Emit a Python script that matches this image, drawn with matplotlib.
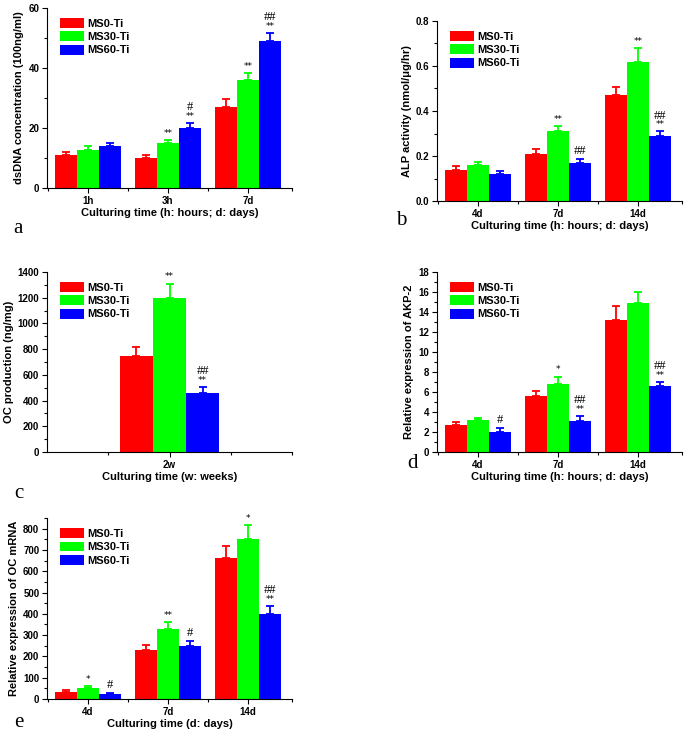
import matplotlib
matplotlib.use("Agg")
import matplotlib.pyplot as plt
import numpy as np
from matplotlib.ticker import MultipleLocator, FixedLocator

W, H = 685, 739
plt.rcParams['font.family'] = ['Liberation Sans', 'DejaVu Sans']
plt.rcParams['font.weight'] = 'bold'

groups = ["MS0-Ti", "MS30-Ti", "MS60-Ti"]
colors = ["#ff0000", "#00ff00", "#0000ff"]

# Panel a: dsDNA
a_cats = ["1h", "3h", "7d"]
a_vals = [[11, 10, 27], [12.6, 15, 36], [14, 20, 49]]
a_err = [[1.0, 1.1, 2.7], [1.5, 1.0, 2.4], [1.1, 1.8, 2.6]]
a_marks = [["", "", ""], ["", "**", "**"], ["", "#\n**", "##\n**"]]

# Panel b: ALP
b_cats = ["4d", "7d", "14d"]
b_vals = [[0.14, 0.21, 0.47], [0.16, 0.31, 0.62], [0.12, 0.17, 0.29]]
b_err = [[0.015, 0.02, 0.037], [0.013, 0.025, 0.06], [0.012, 0.015, 0.02]]
b_marks = [["", "", ""], ["", "**", "**"], ["", "##", "##\n**"]]

# Panel c: OC production
c_cats = ["2w"]
c_vals = [[750], [1200], [460]]
c_err = [[70], [110], [45]]
c_marks = [[""], ["**"], ["##\n**"]]

# Panel d: AKP-2
d_cats = ["4d", "7d", "14d"]
d_vals = [[2.7, 5.6, 13.2], [3.2, 6.8, 14.9], [2.0, 3.1, 6.6]]
d_err = [[0.3, 0.5, 1.4], [0.2, 0.75, 1.1], [0.4, 0.5, 0.4]]
d_marks = [["", "", ""], ["", "*", ""], ["#", "##\n**", "##\n**"]]

# Panel e: OC mRNA
e_cats = ["4d", "7d", "14d"]
e_vals = [[35, 230, 660], [50, 330, 750], [22, 250, 400]]
e_err = [[5, 24, 60], [10, 30, 67], [6, 22, 38]]
e_marks = [["", "", ""], ["*", "**", "*"], ["#", "#", "##\n**"]]

fig = plt.figure(figsize=(W / 100, H / 100), dpi=100)


def make_ax(l, r, t, b):
    return fig.add_axes([l / W, 1 - b / H, (r - l) / W, (b - t) / H])


def draw(ax, cats, vals, errs, marks, ymax, ystep, yminor, ylabel, xlabel,
         width, xlim, fmt=None, minor_x=None):
    n = len(cats)
    x = np.arange(1, n + 1)
    for i in range(3):
        xs = x + (i - 1) * width
        ax.bar(xs, vals[i], width=width, color=colors[i], label=groups[i],
               edgecolor='none', zorder=2)
        ax.errorbar(xs, vals[i], yerr=[np.zeros(n), errs[i]], fmt='none',
                    ecolor=colors[i], elinewidth=1.3, capsize=3.2,
                    capthick=1.3, zorder=3)
        for j in range(n):
            m = marks[i][j]
            if not m:
                continue
            top = vals[i][j] + errs[i][j]
            lines = m.split("\n")
            off = 1.5
            for k, s in enumerate(reversed(lines)):
                if s.startswith("*"):
                    ax.annotate(s, (xs[j], top), xytext=(0, off),
                                textcoords='offset points', ha='center',
                                va='bottom', fontsize=6.5,
                                fontweight='normal', family='DejaVu Sans')
                    off += 5.5
                else:
                    ax.annotate(s, (xs[j], top), xytext=(0, off),
                                textcoords='offset points', ha='center',
                                va='bottom', fontsize=9,
                                fontweight='normal', family='Liberation Serif')
                    off += 9
    ax.set_xlim(*xlim)
    ax.set_ylim(0, ymax)
    ax.set_xticks(x)
    ax.set_xticklabels(cats, fontsize=7, fontweight='bold')
    if minor_x is not None:
        ax.xaxis.set_minor_locator(FixedLocator(minor_x))
    ax.yaxis.set_major_locator(MultipleLocator(ystep))
    ax.yaxis.set_minor_locator(MultipleLocator(yminor))
    if fmt:
        ax.yaxis.set_major_formatter(plt.FormatStrFormatter(fmt))
    for lab in ax.get_yticklabels():
        lab.set_fontsize(7)
        lab.set_fontweight('bold')
    ax.tick_params(which='major', direction='out', length=3.5, width=0.8, pad=2)
    ax.tick_params(which='minor', direction='out', length=2, width=0.8)
    ax.spines['top'].set_visible(False)
    ax.spines['right'].set_visible(False)
    ax.spines['left'].set_linewidth(0.8)
    ax.spines['bottom'].set_linewidth(0.8)
    ax.set_ylabel(ylabel, fontsize=8, fontweight='bold', labelpad=3)
    ax.set_xlabel(xlabel, fontsize=8, fontweight='bold', labelpad=2)
    leg = ax.legend(loc='upper left', bbox_to_anchor=(0.025, 0.98),
                    frameon=False, fontsize=8, handlelength=2.2,
                    handleheight=1.0, handletextpad=0.3, labelspacing=0.22,
                    borderaxespad=0.2)
    for t in leg.get_texts():
        t.set_fontweight('bold')


w3 = 0.275
ax_a = make_ax(47, 292, 8, 188)
draw(ax_a, a_cats, a_vals, a_err, a_marks, 60, 20, 10,
     "dsDNA concentration (100ng/ml)", "Culturing time (h: hours; d: days)",
     w3, (0.49, 3.55), minor_x=[0.5, 1.5, 2.5, 3.55])

ax_b = make_ax(437, 682, 21, 201)
draw(ax_b, b_cats, b_vals, b_err, b_marks, 0.8, 0.2, 0.1,
     "ALP activity (nmol/\u03bcg/hr)", "Culturing time (h: hours; d: days)",
     w3, (0.49, 3.55), fmt='%.1f', minor_x=[0.5, 1.5, 2.5, 3.55])

ax_c = make_ax(47, 292, 272, 452)
draw(ax_c, c_cats, c_vals, c_err, c_marks, 1400, 200, 100,
     "OC production (ng/mg)", "Culturing time (w: weeks)",
     0.135, (0.5, 1.5), minor_x=[0.75, 1.25, 1.5])

ax_d = make_ax(437, 682, 272, 452)
draw(ax_d, d_cats, d_vals, d_err, d_marks, 18, 2, 1,
     "Relative expression of AKP-2", "Culturing time (h: hours; d: days)",
     w3, (0.49, 3.55), minor_x=[0.5, 1.5, 2.5, 3.55])

ax_e = make_ax(47, 292, 518, 699)
draw(ax_e, e_cats, e_vals, e_err, e_marks, 850, 100, 50,
     "Relative expression of OC mRNA", "Culturing time (d: days)",
     w3, (0.49, 3.55), minor_x=[0.5, 1.5, 2.5, 3.55])

for letter, px, py in [("a", 13, 233), ("b", 396, 225), ("c", 14, 498),
                       ("d", 407, 468), ("e", 14, 727)]:
    fig.text(px / W, 1 - py / H, letter, fontsize=15, family='Liberation Serif',
             fontweight='normal', ha='left', va='baseline')

fig.savefig("out.png", dpi=100)
